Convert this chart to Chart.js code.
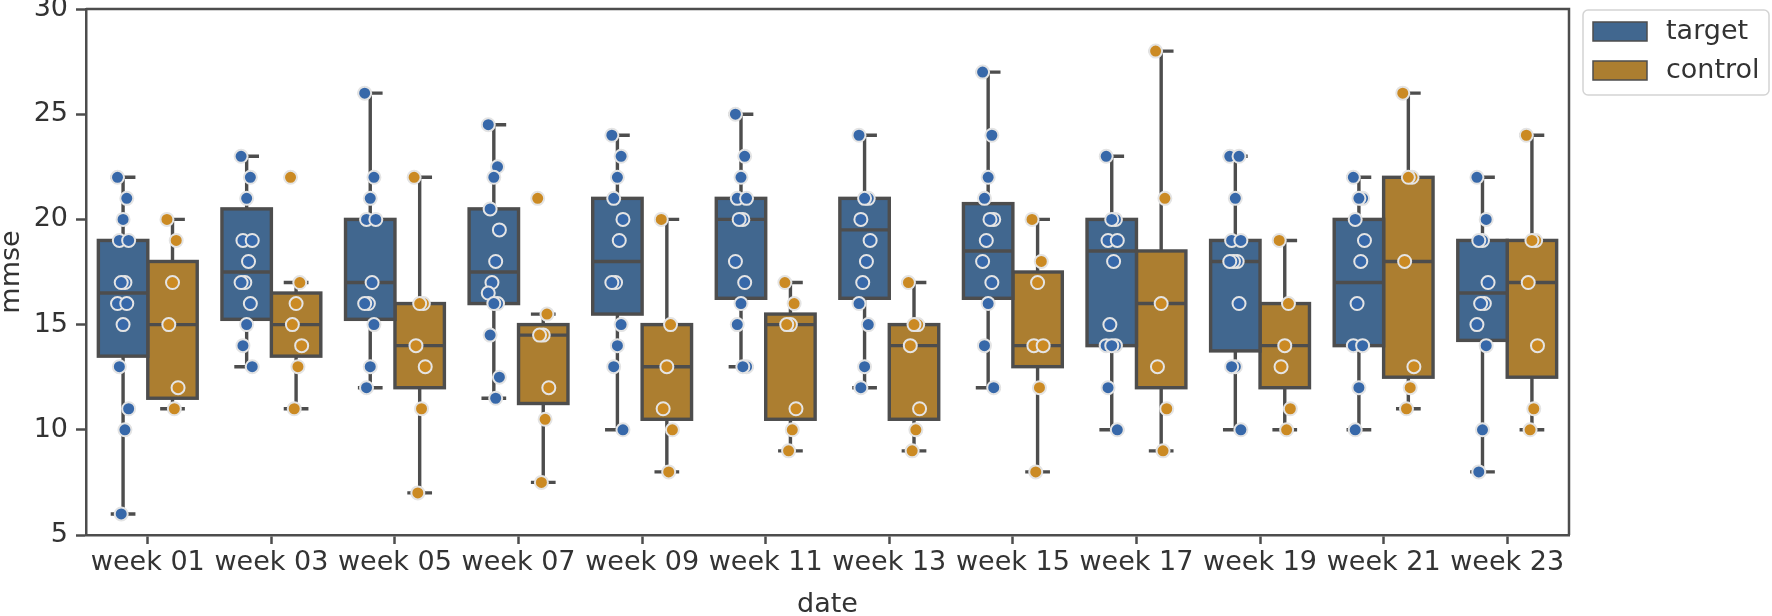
<!DOCTYPE html>
<html>
<head>
<meta charset="utf-8">
<script src="https://cdn.jsdelivr.net/npm/chart.js@4/dist/chart.umd.min.js"></script>
<style>
  html, body { margin: 0; padding: 0; background: #ffffff; }
  #wrap { width: 1772px; height: 616px; }
</style>
</head>
<body>
<div id="wrap"><canvas id="c" width="1772" height="616"></canvas></div>
<script>
// ---------- data ----------
const weeks = ['week 01','week 03','week 05','week 07','week 09','week 11','week 13','week 15','week 17','week 19','week 21','week 23'];
const seriesNames = ['target', 'control'];
const yTicks = [5, 10, 15, 20, 25, 30];

// box statistics: lower whisker, Q1, median, Q3, upper whisker
const targetLow = [6, 13, 12, 11.5, 10, 13, 12, 12, 10, 10, 10, 8];
const targetQ1  = [13.5, 15.25, 15.25, 16, 15.5, 16.25, 16.25, 16.25, 14, 13.75, 14, 14.25];
const targetMed = [16.5, 17.5, 17, 17.5, 18, 20, 19.5, 18.5, 18.5, 18, 17, 16.5];
const targetQ3  = [19, 20.5, 20, 20.5, 21, 21, 21, 20.75, 20, 19, 20, 19];
const targetHigh= [22, 23, 26, 24.5, 24, 25, 24, 27, 23, 23, 22, 22];

const controlLow = [11, 11, 7, 7.5, 8, 9, 9, 8, 9, 10, 11, 10];
const controlQ1  = [11.5, 13.5, 12, 11.25, 10.5, 10.5, 10.5, 13, 12, 12, 12.5, 12.5];
const controlMed = [15, 15, 14, 14.5, 13, 15, 14, 14, 16, 14, 18, 17];
const controlQ3  = [18, 16.5, 16, 15, 15, 15.5, 15, 17.5, 18.5, 16, 22, 19];
const controlHigh= [20, 17, 22, 15.5, 20, 17, 17, 20, 28, 19, 26, 24];

// individual observations per week
const targetPoints = [
  [22,21,20,19,19,17,17,16,16,15,13,11,10,6],
  [23,22,21,19,19,18,17,17,16,15,14,13],
  [26,22,21,20,20,17,16,16,15,13,12],
  [24.5,22.5,22,20.5,19.5,18,17,16.5,16,16,14.5,12.5,11.5],
  [24,23,22,21,20,19,17,17,15,14,13,10],
  [25,23,22,21,21,20,20,18,17,16,15,13,13],
  [24,21,21,20,19,18,17,16,15,13,12],
  [27,24,22,21,20,20,19,18,17,16,14,12],
  [23,20,20,19,19,18,15,14,14,14,12,10],
  [23,23,21,19,19,18,18,18,16,13,13,10],
  [22,21,21,20,19,18,16,14,14,12,10],
  [22,20,19,19,17,16,16,15,14,10,8]
];
const controlPoints = [
  [20,19,17,15,12,11],
  [22,17,16,15,14,13,11],
  [22,16,16,14,13,11,7],
  [21,15.5,14.5,14.5,12,10.5,7.5],
  [20,15,13,11,10,8],
  [17,16,15,15,11,10,9],
  [17,15,15,14,11,10,9],
  [20,18,17,14,14,12,8],
  [28,21,16,13,11,9],
  [19,16,14,13,11,10],
  [26,22,22,18,13,12,11],
  [24,19,19,17,14,11,10]
];

// ---------- styling ----------
const FONT = "'DejaVu Sans', sans-serif";
const FS = 27;
const TEXT = '#333333';
const LINE = '#4d4d4d';
const boxColors = ['#41678f', '#ac7e30'];
const pointColors = ['#3768a9', '#cb8a23'];
const PLOT = { left: 86, right: 1569, top: 9, bottom: 535 };
const DODGE = 0.2;
const BOX_LW = 3.4;

// dodge offset of each hue inside a category, plus a small deterministic strip spread
function stripX(catIndex, hueIndex, k) {
  const dodge = hueIndex === 0 ? -DODGE : DODGE;
  const spread = (((k * 5) % 7) - 3) / 3 * 0.045;
  return catIndex + dodge + spread;
}
function toPoints(groups, hueIndex) {
  const out = [];
  groups.forEach((vals, i) => vals.forEach((v, k) => out.push({ x: stripX(i, hueIndex, k), y: v })));
  return out;
}

const stats = [
  { low: targetLow, q1: targetQ1, med: targetMed, q3: targetQ3, high: targetHigh },
  { low: controlLow, q1: controlQ1, med: controlMed, q3: controlQ3, high: controlHigh }
];

// outline, median and whiskers of each box, drawn on the bar element geometry
const whiskerPlugin = {
  id: 'whiskers',
  afterDatasetDraw(chart, args) {
    const ds = chart.data.datasets[args.index];
    if (ds.type !== 'bar') return;
    const s = stats[ds.hueIndex];
    const y = chart.scales.y;
    const ctx = chart.ctx;
    ctx.save();
    ctx.strokeStyle = LINE;
    ctx.lineWidth = BOX_LW;
    ctx.lineCap = 'butt';
    ctx.lineJoin = 'miter';
    args.meta.data.forEach((el, i) => {
      const x = el.x, w = el.width;
      const pLow = y.getPixelForValue(s.low[i]);
      const pHigh = y.getPixelForValue(s.high[i]);
      const pQ1 = y.getPixelForValue(s.q1[i]);
      const pQ3 = y.getPixelForValue(s.q3[i]);
      const pMed = y.getPixelForValue(s.med[i]);
      ctx.beginPath();
      ctx.moveTo(x, pQ3); ctx.lineTo(x, pHigh);
      ctx.moveTo(x, pQ1); ctx.lineTo(x, pLow);
      ctx.moveTo(x - w * 0.25, pHigh); ctx.lineTo(x + w * 0.25, pHigh);
      ctx.moveTo(x - w * 0.25, pLow); ctx.lineTo(x + w * 0.25, pLow);
      ctx.moveTo(x - w / 2, pMed); ctx.lineTo(x + w / 2, pMed);
      ctx.stroke();
      ctx.strokeRect(x - w / 2, pQ3, w, pQ1 - pQ3);
    });
    ctx.restore();
  }
};

const framePlugin = {
  id: 'frame',
  afterDraw(chart) {
    const a = chart.chartArea;
    const ctx = chart.ctx;
    ctx.save();
    ctx.strokeStyle = LINE;
    ctx.lineWidth = 2.5;
    ctx.beginPath();
    ctx.moveTo(a.left, a.top); ctx.lineTo(a.right, a.top); ctx.lineTo(a.right, a.bottom);
    ctx.stroke();
    // legend
    const lx = 1583, ly = 10, lw = 186, lh = 85;
    ctx.fillStyle = '#ffffff';
    ctx.strokeStyle = '#d4d4d4';
    ctx.lineWidth = 1.5;
    ctx.beginPath();
    ctx.roundRect(lx, ly, lw, lh, 5);
    ctx.fill(); ctx.stroke();
    seriesNames.forEach((name, i) => {
      const py = 22 + i * 39;
      ctx.fillStyle = boxColors[i];
      ctx.fillRect(1593, py, 54, 19);
      ctx.strokeStyle = LINE;
      ctx.lineWidth = 1.5;
      ctx.strokeRect(1593, py, 54, 19);
      ctx.fillStyle = TEXT;
      ctx.font = FS + 'px ' + FONT;
      ctx.textBaseline = 'middle';
      ctx.textAlign = 'left';
      ctx.fillText(name, 1666, py + 10);
    });
    ctx.restore();
  }
};

const barDatasets = stats.map((s, h) => ({
  type: 'bar',
  label: seriesNames[h],
  hueIndex: h,
  data: weeks.map((_, i) => ({ x: i + (h === 0 ? -DODGE : DODGE), y: [s.q1[i], s.q3[i]] })),
  backgroundColor: boxColors[h],
  borderWidth: 0,
  grouped: false,
  barPercentage: 1.0,
  categoryPercentage: 1.0,
  order: 2,
  xAxisID: 'xb',
  yAxisID: 'y'
}));

const pointDatasets = [targetPoints, controlPoints].map((g, h) => ({
  type: 'scatter',
  label: seriesNames[h] + ' points',
  data: toPoints(g, h),
  backgroundColor: pointColors[h],
  borderColor: '#e4e4e4',
  borderWidth: 2,
  pointRadius: 6.5,
  order: 1,
  xAxisID: 'xp',
  yAxisID: 'y'
}));

function hiddenLinear() {
  return {
    type: 'linear',
    display: false,
    offset: false,
    grid: { offset: false },
    min: -0.5,
    max: weeks.length - 0.5,
    ticks: { stepSize: 1 }
  };
}

new Chart(document.getElementById('c'), {
  data: { labels: weeks, datasets: barDatasets.concat(pointDatasets) },
  options: {
    responsive: false,
    animation: false,
    devicePixelRatio: 1,
    layout: { padding: { left: 0, right: 1772 - PLOT.right, top: PLOT.top, bottom: 0 } },
    plugins: { legend: { display: false }, tooltip: { enabled: false } },
    scales: {
      x: {
        type: 'category',
        offset: true,
        grid: { display: true, drawOnChartArea: false, drawTicks: true, tickLength: 9, tickWidth: 2.5, tickColor: LINE, offset: false },
        border: { display: true, color: LINE, width: 2.5 },
        ticks: { color: TEXT, font: { family: FONT, size: FS }, padding: 3, maxRotation: 0, autoSkip: false },
        title: { display: true, text: 'date', color: TEXT, font: { family: FONT, size: FS }, padding: { top: 0, bottom: -5 } },
        afterFit(scale) { scale.height = 616 - PLOT.bottom; scale.paddingLeft = 0; scale.paddingRight = 0; }
      },
      xb: hiddenLinear(),
      xp: hiddenLinear(),
      y: {
        type: 'linear',
        min: yTicks[0],
        max: yTicks[yTicks.length - 1],
        afterBuildTicks(scale) { scale.ticks = yTicks.map(v => ({ value: v })); },
        grid: { display: true, drawOnChartArea: false, drawTicks: true, tickLength: 10, tickWidth: 2.5, tickColor: LINE },
        border: { display: true, color: LINE, width: 2.5 },
        ticks: { color: TEXT, font: { family: FONT, size: FS }, padding: 8 },
        title: { display: true, text: 'mmse', color: TEXT, font: { family: FONT, size: FS }, padding: { top: -4, bottom: 0 } },
        afterFit(scale) { scale.width = PLOT.left; scale.paddingTop = 0; scale.paddingBottom = 0; }
      }
    }
  },
  plugins: [whiskerPlugin, framePlugin]
});
</script>
</body>
</html>
